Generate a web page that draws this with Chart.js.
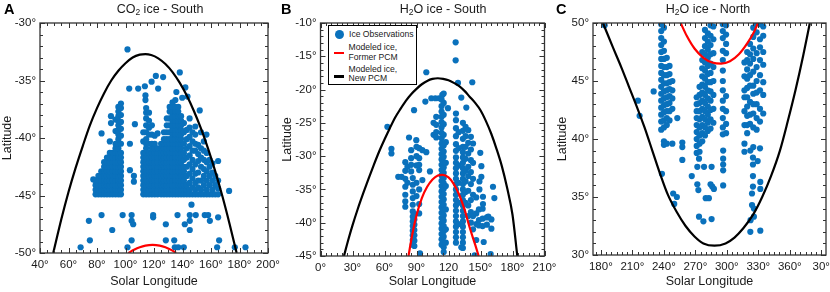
<!DOCTYPE html>
<html>
<head>
<meta charset="utf-8">
<script src="https://cdn.jsdelivr.net/npm/chart.js@4.4.1/dist/chart.umd.min.js"></script>
<style>
  body { margin: 0; background: #fff; }
  #wrap { position: relative; width: 830px; height: 292px; overflow: hidden; font-family: 'Liberation Sans', Arial, sans-serif; color: #1a1a1a; }
  #wrap canvas { position: absolute; top: 0; }
  .letter { position: absolute; top: 1px; font-size: 14.5px; line-height: 16px; font-weight: bold; color: #000; }
  .title { position: absolute; top: 1.5px; font-size: 12.5px; line-height: 15px; transform: translateX(-50%); white-space: nowrap; }
  .title sub { font-size: 8.5px; line-height: 0; vertical-align: -2px; }
  #legend { position: absolute; left: 328px; top: 25px; width: 87px; height: 58px; border: 1.5px solid #000; background: #fff; font-size: 8.6px; line-height: 9.6px; }
  #legend div { position: absolute; white-space: nowrap; }
  #legend .dot { left: 5.5px; top: 4px; width: 9px; height: 9px; border-radius: 50%; background: #0a71bc; }
  #legend .swatch { left: 5px; width: 10px; height: 2.5px; }
</style>
</head>
<body>
<div id="wrap">
  <canvas id="chartA" width="292" height="292" style="left:0"></canvas>
  <canvas id="chartB" width="290" height="292" style="left:280px"></canvas>
  <canvas id="chartC" width="275" height="292" style="left:555px"></canvas>
  <div class="letter" style="left:4px">A</div>
  <div class="letter" style="left:281px">B</div>
  <div class="letter" style="left:556px">C</div>
  <div class="title" style="left:160px">CO<sub>2</sub> ice - South</div>
  <div class="title" style="left:443px">H<sub>2</sub>O ice - South</div>
  <div class="title" style="left:708px">H<sub>2</sub>O ice - North</div>
  <div id="legend">
    <div class="dot"></div>
    <div style="left:20px; top:3.8px">Ice Observations</div>
    <div class="swatch" style="top:25.5px; background:#ff0000"></div>
    <div style="left:19.5px; top:17px">Modeled ice,<br>Former PCM</div>
    <div class="swatch" style="top:49px; background:#000"></div>
    <div style="left:19.5px; top:38.5px">Modeled ice,<br>New PCM</div>
  </div>
</div>
<script>
// Mars surface ice detections vs. modeled frost extent, three panels.
// Observation rows: [solar longitude, latitude, latitude, ...]

const xTicksA = [40, 60, 80, 100, 120, 140, 160, 180, 200];
const xLabelsA = ['40°', '60°', '80°', '100°', '120°', '140°', '160°', '180°', '200°'];
const yTicksA = [-50, -45, -40, -35, -30];
const yLabelsA = ['-50°', '-45°', '-40°', '-35°', '-30°'];

const xTicksB = [0, 30, 60, 90, 120, 150, 180, 210];
const xLabelsB = ['0°', '30°', '60°', '90°', '120', '150°', '180°', '210°'];
const yTicksB = [-45, -40, -35, -30, -25, -20, -15, -10];
const yLabelsB = ['-45°', '-40°', '-35°', '-30°', '-25°', '-20°', '-15°', '-10°'];

const xTicksC = [180, 210, 240, 270, 300, 330, 360, 390];
const xLabelsC = ['180°', '210°', '240°', '270°', '300°', '330°', '360°', '30°'];
const yTicksC = [30, 35, 40, 45, 50];
const yLabelsC = ['30°', '35°', '40°', '45°', '50°'];

// modeled ice edge, [Ls, latitude]
const newPcmA = [[49.3, -50], [55, -47.05], [60, -44.7], [65, -42.6], [70, -40.7], [75, -38.9], [80, -37.4], [85, -36.1], [90, -35.0], [95, -34.15], [100, -33.5], [105, -33.0], [110, -32.75], [114, -32.7], [118, -32.78], [123, -33.07], [128, -33.57], [133, -34.27], [138, -35.19], [143, -36.31], [148, -37.65], [153, -39.19], [158, -40.94], [163, -42.9], [168, -45.07], [173, -47.45], [178, -50]];
const oldPcmA = [[102, -50], [106, -49.72], [110, -49.5], [114, -49.36], [119, -49.3], [124, -49.36], [128, -49.5], [132, -49.73], [135.5, -50]];

const newPcmB = [[22, -45], [26, -42.6], [30, -40.4], [35, -37.9], [40, -35.6], [45, -33.4], [50, -31.3], [55, -29.3], [60, -27.5], [65, -25.8], [70, -24.2], [75, -22.9], [80, -21.7], [85, -20.7], [90, -19.9], [95, -19.2], [100, -18.7], [105, -18.4], [110, -18.3], [115, -18.4], [120, -18.6], [125, -19.0], [130, -19.5], [135, -20.2], [140, -21.1], [145, -22.0], [150, -23.1], [155, -24.7], [160, -26.6], [165, -28.9], [170, -31.5], [175, -34.8], [180, -38.8], [184.5, -45]];
const oldPcmB = [[82.5, -45], [86, -41.8], [90, -38.9], [95, -36.3], [100, -34.6], [105, -33.5], [110, -32.9], [114.5, -32.8], [120, -33.2], [125, -34.2], [130, -35.8], [135, -38.0], [140, -40.8], [145, -43.3], [148.3, -45]];

const newPcmC = [[182.0, 50], [191.0, 48], [199.4, 46.2], [206.8, 44.5], [214.2, 42.8], [221.6, 41], [229.0, 39], [236.4, 37], [243.8, 35.2], [252.3, 33.7], [260.7, 32.5], [269.2, 31.6], [277.7, 31.0], [288.2, 30.8], [298.8, 31.0], [307.3, 31.5], [315.7, 32.3], [325.2, 33.5], [333.7, 35], [342.1, 36.8], [350.6, 39], [358.0, 41.5], [365.4, 44.2], [372.8, 47.2], [379.1, 50]];
const oldPcmC = [[256.0, 50], [261.8, 48.9], [269.2, 47.8], [277.7, 47.0], [286.1, 46.6], [294.6, 46.5], [303.0, 46.7], [311.5, 47.3], [319.9, 48.3], [326.3, 49.3], [329.5, 50]];

const obsA = [
  [68.5, -49.5], [74.3, -47.2], [75, -48.9], [77.4, -43.6],
  [79, -44.9, -44.5, -44.1, -43.7],
  [81, -44.9, -44.5, -44.1, -43.7, -43.3],
  [83, -44.9, -44.5, -44.1, -43.7, -43.3, -42.9],
  [83.2, -39.6, -46.7],
  [85, -44.9, -44.5, -44.1, -43.7, -43.3, -42.9, -42.5, -42.1],
  [87, -44.9, -44.5, -44.1, -43.7, -43.3, -42.9, -42.5, -42.1, -41.7],
  [89, -44.9, -44.5, -44.1, -43.7, -43.3, -42.9, -42.5, -42.1, -41.7, -41.3, -40.3],
  [89.8, -38.1, -38.7],
  [90.7, -48.0],
  [91, -44.9, -44.5, -44.1, -43.7, -43.3, -42.9, -42.5, -42.1, -41.7, -41.3],
  [93, -44.9, -44.5, -44.1, -43.7, -43.3, -42.9, -42.5, -42.1, -41.7, -41.3, -40.9, -40.5, -39.4, -38.4],
  [95, -44.9, -44.5, -44.1, -43.7, -43.3, -42.9, -42.5, -42.1, -41.7, -41.3, -40.9, -40.5, -40.1, -39.7, -39.3, -38.9, -38.5, -38.1, -37.7, -37.3],
  [96.8, -44.9, -44.5, -44.1, -43.7, -43.3, -42.9, -42.5, -42.1, -41.7, -41.3, -40.5, -39.8, -39.2, -38.6, -38.0, -37.4, -37.0],
  [98, -46.7],
  [101.4, -32.3, -49.5],
  [102.6, -35.7],
  [103.1, -40.5, -42.8],
  [104.3, -46.7, -47.2, -48.9],
  [105.4, -47.5],
  [105.9, -43.3, -43.8],
  [106.6, -38.8],
  [108.9, -35.7],
  [112.5, -44.9, -44.5, -44.1, -43.7, -43.3, -42.9, -42.5, -42.1, -41.7, -41.3, -40.3, -39.5],
  [113.6, -35.5],
  [114, -36.3, -36.7],
  [114.5, -44.9, -44.5, -44.1, -43.7, -43.3, -42.9, -42.5, -42.1, -41.7, -41.3, -40.9, -40.5, -40.1, -39.5, -38.9, -38.3, -37.8, -37.4],
  [116.5, -44.9, -44.5, -44.1, -43.7, -43.3, -42.9, -42.5, -42.1, -41.7, -41.3, -40.5, -39.7, -39.1, -38.5, -37.8],
  [118.3, -35.1],
  [118.5, -44.9, -44.5, -44.1, -43.7, -43.3, -42.9, -42.5, -42.1, -41.7, -41.3, -40.9, -40.5, -39.7, -38.9],
  [119.4, -46.7, -46.9],
  [120.5, -44.9, -44.5, -44.1, -43.7, -43.3, -42.9, -42.5, -42.1, -41.7, -41.3, -40.9, -40.5, -39.8],
  [121.3, -34.6],
  [122.5, -44.9, -44.5, -44.1, -43.7, -43.3, -42.9, -42.5, -42.1, -41.7, -41.3, -40.9, -39.6],
  [122.9, -35.7],
  [125, -44.9, -44.5, -44.1, -43.7, -43.3, -42.9, -42.5, -42.1, -41.7, -41.3, -40.9, -40.5],
  [126.4, -34.7],
  [127, -44.9, -44.5, -44.1, -43.7, -43.3, -42.9, -42.5, -42.1, -41.7, -41.3, -40.9, -40.5, -40.1, -39.5],
  [128.3, -47.5, -48.9],
  [129, -44.9, -44.5, -44.1, -43.7, -43.3, -42.9, -42.5, -42.1, -41.7, -41.3, -40.9, -40.5, -40.1, -39.5, -38.9, -38.3],
  [131, -44.9, -44.5, -44.1, -43.7, -43.3, -42.9, -42.5, -42.1, -41.7, -41.3, -40.9, -40.5, -40.1, -39.5, -38.9, -38.3, -37.7, -37.3],
  [133, -44.9, -44.5, -44.1, -43.7, -43.3, -42.9, -42.5, -42.1, -41.7, -41.3, -40.9, -40.5, -40.1, -39.7, -39.3, -38.9, -38.5, -38.1, -37.7, -37.3, -36.9],
  [134.2, -48.9],
  [134.6, -49.5],
  [135, -44.9, -44.5, -44.1, -43.7, -43.3, -42.9, -42.5, -42.1, -41.7, -41.3, -40.9, -40.5, -40.1, -39.7, -39.3, -38.9, -38.5, -38.1, -37.7, -37.3, -36.7],
  [135.7, -36.0],
  [136.5, -46.7],
  [137, -44.9, -44.5, -44.1, -43.7, -43.3, -42.9, -42.5, -42.1, -41.7, -41.3, -40.9, -40.5, -40.1, -39.7, -39.3, -38.9, -38.5, -38.1, -37.7, -37.3, -49.5],
  [138.1, -34.3],
  [139, -44.9, -44.5, -44.1, -43.7, -43.3, -42.9, -42.5, -42.1, -41.7, -41.3, -40.9, -40.5, -40.1, -39.7, -39.3, -38.9, -38.5, -38.1],
  [139.8, -36.5],
  [140.9, -49.5],
  [141, -44.9, -44.5, -44.1, -43.7, -43.3, -42.9, -42.5, -41.9, -41.3, -40.5, -39.5, -38.7],
  [141.6, -47.5],
  [142, -35.6],
  [143, -44.9, -44.5, -44.1, -43.3, -42.5, -41.7, -40.9, -40.1, -39.3],
  [143.5, -36.4],
  [145, -44.9, -44.5, -43.9, -43.1, -42.3, -41.5, -40.7, -39.9, -39.1, -38.3],
  [145.1, -46.7, -47.2, -48.0],
  [146.3, -45.8],
  [147, -44.9, -44.3, -43.5, -42.7, -41.9, -41.1, -40.3, -39.5],
  [149, -44.9, -44.5, -43.9, -43.1, -42.3, -41.1, -40.5, -39.7, -39.0],
  [149.3, -46.7],
  [151, -44.9, -44.3, -43.7, -43.0, -42.0, -41.4, -40.6],
  [152.1, -37.6],
  [153, -44.9, -44.5, -43.7, -42.5, -41.7, -40.9, -39.5],
  [155, -44.9, -44.1, -43.3, -42.7, -41.9, -41.1, -40.3],
  [155.6, -46.7],
  [156.8, -39.7],
  [157, -44.9, -44.5, -43.7, -42.9, -42.1, -41.3],
  [158, -46.7],
  [159, -44.9, -44.1, -43.3, -42.5, -41.9],
  [159.2, -47.2],
  [161, -44.9, -44.5, -43.7, -43.0, -42.2],
  [163, -44.9, -44.1, -43.3],
  [164.3, -49.5],
  [165, -44.9, -44.4, -43.7, -42.0, -46.9],
  [165.7, -48.9],
  [172.7, -44.6],
  [176.7, -49.5],
  [184.2, -49.5],
];

const obsB = [
  [62.7, -25.6], [66.5, -28.9, -29.6], [72.9, -33.1], [76, -33.1],
  [79.5, -30.9, -32.2, -33.4, -34.6, -35.8, -36.8, -37.6],
  [81.5, -31.6, -34.0],
  [83, -27.2],
  [85, -29.1, -30.3, -31.3, -32.3],
  [86.5, -33.3, -34.3, -35.3, -36.3, -37.3, -38.3, -39.1, -39.8, -40.5, -41.2, -41.9, -42.6, -43.3],
  [87.7, -23.1],
  [88, -38.7, -39.5, -40.3, -41.1, -41.9, -42.7, -43.5],
  [89.8, -27.6],
  [90, -28.6, -30.0, -31.4, -34.0, -36.0],
  [92.5, -28.8, -30.3, -31.3, -32.1, -35.0, -37.2, -38.6],
  [93.3, -44.6],
  [95.5, -29.1, -33.6],
  [98.3, -21.8],
  [99.2, -17.4, -29.4],
  [102.6, -32.3],
  [103.9, -21.3],
  [106, -25.0, -26.8],
  [107.7, -21.3],
  [108.5, -24.1, -25.3, -26.4, -27.2],
  [111.1, -21.3],
  [113.5, -21.5, -22.5, -23.3, -24.1, -24.9, -25.7, -26.5, -27.3, -28.1, -28.9, -29.7, -30.5, -31.3, -32.1, -32.9, -33.7, -34.5, -35.3, -36.1, -36.9, -37.7, -38.5, -39.3, -40.1, -40.9, -41.7, -42.5, -43.3],
  [114.2, -20.8],
  [115.5, -20.6, -22.0, -23.8, -25.2, -26.8, -28.4, -29.3, -30.1, -30.9, -31.7, -32.5, -33.3, -34.1, -34.9, -35.7, -36.5, -37.3, -38.1, -38.9, -39.7, -40.5, -41.3, -42.1, -42.9, -43.7, -44.4],
  [117.5, -27.9, -31.0, -34.5, -38.0, -41.0, -43.0],
  [119.5, -22.8],
  [126.7, -12.9, -15.6],
  [127, -23.6, -24.6, -25.8, -27.0, -28.2, -29.2, -30.2, -31.0, -31.8, -32.6, -33.4, -34.2, -35.0, -35.8, -36.6, -37.4, -38.2, -39.0, -39.8, -40.6, -41.4, -42.2, -43.0],
  [128.9, -19.0],
  [129.5, -26.4, -28.8, -31.4, -34.0, -37.0, -40.2],
  [132, -21.2, -43.7],
  [133.5, -25.0, -26.2, -27.4, -28.6, -29.4, -30.2, -31.0, -31.8, -32.6, -33.4, -34.2, -35.0, -35.8, -36.6, -37.4, -38.2, -39.0, -39.8, -40.6, -41.4, -42.2, -43.0, -43.8],
  [136, -25.6, -27.0, -28.6, -30.4, -32.2, -33.8, -35.4, -37.0],
  [136.7, -22.7],
  [138.5, -26.1, -28.0, -29.6, -31.6, -33.0, -35.2, -37.4, -39.0],
  [141, -27.1, -29.0, -30.6, -32.4, -34.2, -36.6, -38.4, -40.0],
  [142.3, -18.9],
  [143, -28.1, -31.0, -33.4, -35.8, -39.0, -41.0],
  [144.5, -44.9],
  [146, -36.2, -38.6, -40.2, -42.6],
  [148.5, -38.0, -39.6, -40.4],
  [149, -33.8, -35.0],
  [149.8, -29.5],
  [150.8, -31.5, -33.1],
  [152, -37.9, -39.4, -40.5],
  [152.3, -36.1, -37.2],
  [153, -42.9],
  [156, -39.2, -40.3],
  [157.3, -39.1],
  [159.5, -44.7],
  [160.2, -39.5, -40.9],
  [161.7, -34.6],
  [163, -36.3],
];

const obsC = [
  [183.6, 49.8],
  [215.3, 43.3], [216.9, 42.0], [230.3, 44.1],
  [237.5, 49.9, 49.3, 48.7, 48.1, 47.5, 46.9, 46.3, 45.7, 45.1, 44.5, 43.9, 43.3, 42.7, 42.1, 41.5, 40.8],
  [238.2, 37.0],
  [240.1, 49.6, 48.4, 47.6, 46.9, 46.2, 45.5, 44.8, 44.1, 43.5, 42.9, 42.3, 41.6, 41.0, 39.8, 39.5],
  [242.8, 47.0, 46.2, 45.5, 44.8, 44.2, 43.6, 43.0, 42.4, 41.8, 41.2, 39.6],
  [245.4, 46.3, 45.6, 44.9, 44.3, 43.7, 43.1, 42.4, 41.6],
  [248.1, 45.0, 44.2, 43.5, 42.6, 39.6],
  [248.9, 35.3], [249.9, 34.4], [252.4, 35.0], [252.8, 41.8],
  [257.6, 39.7, 39.3, 38.2],
  [266.6, 36.8],
  [271.3, 43.6, 43.0, 42.4, 41.8, 41.2, 40.6, 40.0, 39.4, 38.8],
  [271.9, 37.6, 36.1],
  [272.9, 35.6],
  [273.5, 38.3, 33.3],
  [274.0, 44.5, 43.8, 43.1, 42.4, 41.7, 41.0, 40.3, 39.6, 38.9],
  [276.6, 47.5, 46.8, 46.1, 45.4, 44.7, 44.0, 43.3, 42.6, 41.9, 41.2, 40.5, 39.8],
  [277.7, 32.9],
  [278.3, 37.6],
  [279.2, 49.4, 48.7, 48.0, 47.3, 46.6, 45.9, 45.2, 44.5, 43.8, 43.1, 42.4, 41.7, 41.0, 40.3],
  [279.9, 34.9],
  [281.9, 49.1, 48.4, 47.7, 47.0, 46.3, 45.6, 44.9, 44.2, 43.5, 42.8, 42.1, 41.4, 40.7],
  [282.9, 34.9],
  [284.5, 49.8, 48.9, 48.1, 47.3, 46.5, 45.7, 44.9, 44.1, 43.3, 42.5, 41.7, 40.9, 36.1],
  [285.5, 37.6, 33.1],
  [286.1, 35.9],
  [287.2, 49.7, 48.6, 47.4, 46.2, 45.0, 43.8, 42.6, 41.4],
  [287.7, 35.7],
  [296.2, 49.9, 49.3, 48.7, 47.6, 46.8, 45.9, 45.0, 44.2, 43.3, 42.6, 41.8, 41.0, 40.4],
  [296.5, 39.0, 38.3, 37.8, 37.3, 36.0],
  [299.3, 49.8, 49.0, 48.2, 47.4, 43.7, 42.4, 41.3, 40.5],
  [316.8, 46.6, 45.4, 44.2, 43.6, 42.4, 41.2, 39.6, 38.9],
  [319.4, 47.5, 46.8, 46.0, 45.2, 44.4, 43.6, 42.8, 42.0, 41.2, 40.5],
  [322.1, 48.2, 47.3, 46.5, 45.5, 44.6, 43.2, 42.1, 41.3],
  [322.4, 39.0, 32.0],
  [322.6, 33.0],
  [324.0, 35.3, 34.3],
  [324.9, 38.4, 37.8, 36.8, 35.9],
  [325.2, 49.6, 48.8, 47.8, 46.9, 45.8, 44.6, 43.9, 43.0, 42.2, 41.0, 39.3],
  [325.8, 34.0, 33.3],
  [328.4, 50.0, 49.2, 47.4, 46.2, 45.0, 44.0, 43.0, 41.8, 40.8],
  [329.4, 38.1],
  [331.6, 49.9, 48.6, 47.9, 46.8, 45.5, 44.2, 42.6, 41.5, 39.2],
  [331.9, 35.7, 36.3, 32.1],
  [334.7, 49.7, 48.9, 47.5, 46.4, 44.9, 43.8, 42.2],
];

const BLUE = '#0a71bc';

Chart.defaults.font.family = "'Liberation Sans', Arial, Helvetica, sans-serif";
Chart.defaults.color = '#1a1a1a';

// frame box with inward major/minor ticks on all four sides
const frameTicks = {
    id: 'frameTicks',
    afterDatasetsDraw(chart, args, opts) {
        const { ctx, chartArea: a } = chart;
        const xs = chart.scales.x, ys = chart.scales.y;
        ctx.save();
        ctx.strokeStyle = '#333';
        ctx.lineWidth = 1;
        ctx.beginPath();
        for (let v = Math.ceil(xs.min / opts.xMinor) * opts.xMinor; v <= xs.max; v += opts.xMinor) {
            const px = Math.round(xs.getPixelForValue(v)) + 0.5;
            const len = opts.xMajor.includes(v) ? 5 : 3;
            ctx.moveTo(px, a.bottom); ctx.lineTo(px, a.bottom - len);
            ctx.moveTo(px, a.top); ctx.lineTo(px, a.top + len);
        }
        for (let v = Math.ceil(ys.min); v <= ys.max; v += 1) {
            const py = Math.round(ys.getPixelForValue(v)) + 0.5;
            const len = opts.yMajor.includes(v) ? 5 : 3;
            ctx.moveTo(a.left, py); ctx.lineTo(a.left + len, py);
            ctx.moveTo(a.right, py); ctx.lineTo(a.right - len, py);
        }
        ctx.stroke();
        ctx.lineWidth = 1.3;
        ctx.strokeRect(a.left, a.top, a.right - a.left, a.bottom - a.top);
        ctx.restore();
    }
};

function toPoints(rows) {
    const pts = [];
    rows.forEach(([ls, ...lats]) => lats.forEach((lat) => pts.push({ x: ls, y: lat })));
    return pts;
}

function buildPanel(id, p) {
    const curve = (pairs) => pairs.map(([x, y]) => ({ x, y }));
    return new Chart(document.getElementById(id), {
        type: 'scatter',
        data: {
            datasets: [
                { label: 'Modeled ice, New PCM', data: curve(p.newPcm), showLine: true, borderColor: '#000', borderWidth: 2.2, pointRadius: 0, cubicInterpolationMode: 'monotone', clip: 0, order: 1 },
                { label: 'Modeled ice, Former PCM', data: curve(p.oldPcm), showLine: true, borderColor: '#ff0000', borderWidth: 2.2, pointRadius: 0, cubicInterpolationMode: 'monotone', clip: 0, order: 2 },
                { label: 'Ice Observations', data: toPoints(p.obs), pointRadius: 3.1, pointBackgroundColor: BLUE, pointBorderWidth: 0, order: 3 },
            ]
        },
        options: {
            responsive: false,
            animation: false,
            events: [],
            layout: { padding: { top: 23, right: p.padRight, bottom: 0, left: 0 } },
            plugins: {
                legend: { display: false },
                tooltip: { enabled: false },
                frameTicks: { xMinor: 5, xMajor: p.xTicks, yMajor: p.yTicks },
            },
            scales: {
                x: {
                    type: 'linear', min: p.xMin, max: p.xMax,
                    grid: { display: false, drawTicks: false },
                    border: { display: false },
                    afterBuildTicks: (s) => { s.ticks = p.xTicks.map((value) => ({ value })); },
                    afterFit: (s) => { s.height = p.xAxisHeight; s.paddingLeft = 0; s.paddingRight = 0; },
                    ticks: { autoSkip: false, maxRotation: 0, padding: 5, font: { size: 11.5 }, callback: (v, i) => p.xLabels[i] },
                    title: { display: true, text: 'Solar Longitude', font: { size: 12.5 }, padding: { top: 0, bottom: 3 } },
                },
                y: {
                    type: 'linear', min: p.yMin, max: p.yMax,
                    grid: { display: false, drawTicks: false },
                    border: { display: false },
                    afterBuildTicks: (s) => { s.ticks = p.yTicks.map((value) => ({ value })); },
                    afterFit: (s) => { s.width = p.yAxisWidth; s.paddingTop = 0; s.paddingBottom = 0; },
                    ticks: { autoSkip: false, padding: 4, font: { size: 11.5 }, callback: (v, i) => p.yLabels[i] },
                    title: { display: true, text: 'Latitude', font: { size: 12.5 }, padding: { top: 0, bottom: 0 } },
                },
            },
        },
        plugins: [frameTicks],
    });
}

buildPanel('chartA', {
    obs: obsA, newPcm: newPcmA, oldPcm: oldPcmA,
    xMin: 40, xMax: 200, yMin: -50, yMax: -30,
    xTicks: xTicksA, xLabels: xLabelsA, yTicks: yTicksA, yLabels: yLabelsA,
    yAxisWidth: 40, xAxisHeight: 39, padRight: 24,
});

buildPanel('chartB', {
    obs: obsB, newPcm: newPcmB, oldPcm: oldPcmB,
    xMin: 0, xMax: 210, yMin: -45, yMax: -10,
    xTicks: xTicksB, xLabels: xLabelsB, yTicks: yTicksB, yLabels: yLabelsB,
    yAxisWidth: 40.5, xAxisHeight: 36, padRight: 25.5,
});

buildPanel('chartC', {
    obs: obsC, newPcm: newPcmC, oldPcm: oldPcmC,
    xMin: 172.5, xMax: 394.5, yMin: 30, yMax: 50,
    xTicks: xTicksC, xLabels: xLabelsC, yTicks: yTicksC, yLabels: yLabelsC,
    yAxisWidth: 38, xAxisHeight: 37, padRight: 2.5,
});
</script>
</body>
</html>
